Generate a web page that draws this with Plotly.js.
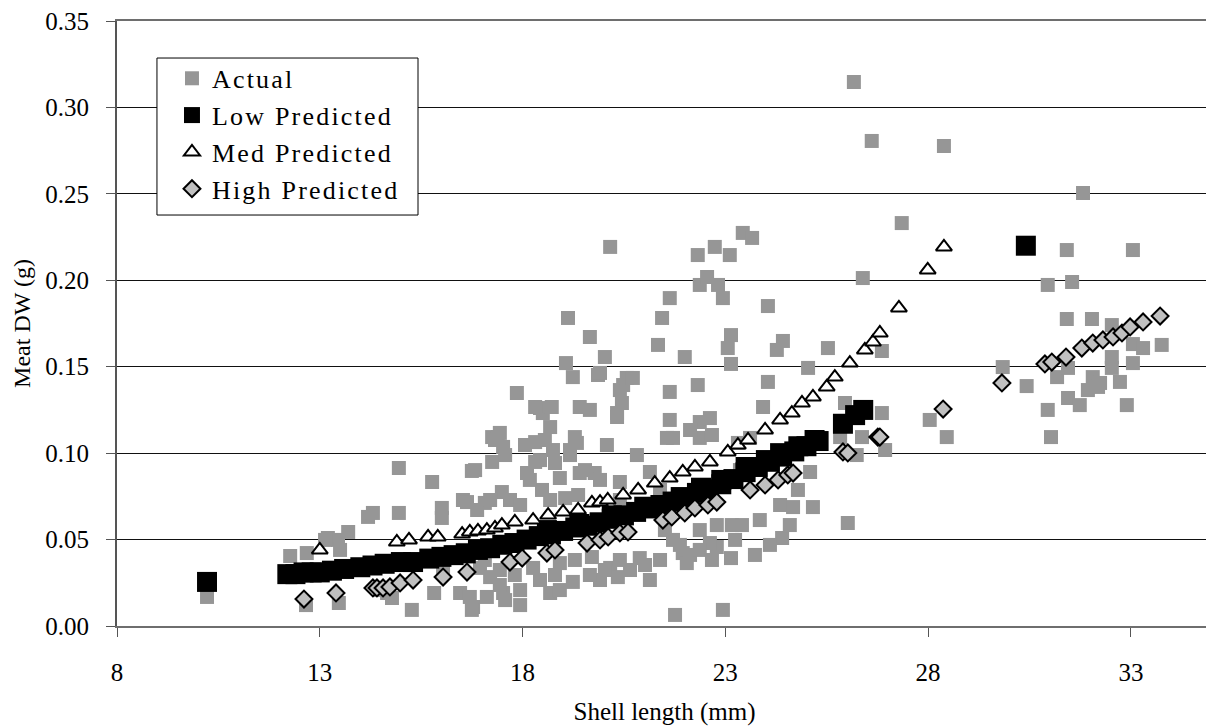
<!DOCTYPE html>
<html>
<head>
<meta charset="utf-8">
<script src="https://cdn.plot.ly/plotly-3.0.1.min.js"></script>
<style>
  html, body { margin: 0; padding: 0; overflow: hidden; background: #fff; }
  #chart { width: 1215px; height: 727px; }
  #chart .legendtext { letter-spacing: 2.2px; }
  #chart .legend .scrollbox { clip-path: none !important; }
</style>
</head>
<body>
<div id="chart"></div>
<script>
// Shell length (mm) and meat dry weight (g) of measured animals
const actualLength = [
  10.22, 12.27, 12.68, 12.66, 13.45, 13.20, 13.70, 13.47, 14.19, 14.31,
  14.66, 14.95, 14.95, 15.27, 15.77, 15.82, 16.01, 16.01, 16.04, 16.46,
  16.53, 16.63, 16.75, 16.78, 16.75, 16.88, 16.53, 17.25, 17.25, 16.83,
  17.39, 17.52, 17.44, 17.86, 17.07, 17.49, 17.69, 18.31, 18.31, 18.11,
  18.43, 18.50, 18.72, 18.68, 18.75, 18.80, 18.92, 18.48, 19.07, 19.12,
  19.24, 19.34, 19.29, 19.41, 19.41, 19.37, 19.66, 19.78, 19.86, 19.91,
  19.17, 20.03, 20.08, 20.16, 20.33, 20.33, 20.40, 20.45, 20.40, 20.48,
  20.57, 20.72, 20.82, 21.14, 21.34, 21.44, 21.56, 21.63, 21.63, 21.71,
  22.00, 22.32, 22.32, 22.37, 22.37, 22.37, 22.55, 22.67, 22.74, 22.82,
  22.94, 23.11, 23.14, 23.06, 23.14, 23.43, 23.66, 23.31, 23.61, 23.93,
  24.05, 24.05, 24.27, 24.42, 25.04, 25.53, 25.09, 24.79, 24.35, 24.67,
  25.16, 24.40, 23.41, 22.79, 23.16, 23.24, 22.79, 23.14, 22.94, 21.76,
  22.62, 21.71, 21.95, 22.05, 20.89, 20.16, 20.35, 19.71, 19.24, 18.68,
  18.92, 18.26, 17.52, 17.12, 16.70, 16.95, 17.20, 17.44, 17.81, 18.80,
  20.03, 20.40, 21.02, 19.91, 22.13, 22.37, 17.57, 21.39,
  18.31, 19.66, 17.32, 17.57, 18.06, 18.43, 19.17, 19.54, 19.91, 18.18,
  18.55, 17.20, 17.94, 18.68, 19.05, 21.63, 22.13, 22.62, 21.51, 21.88,
  22.37, 22.67, 19.66, 20.65, 21.14, 17.07, 17.44, 17.94, 18.43, 18.92,
  19.29, 17.94, 14.48, 14.78, 13.13, 13.50, 23.85, 24.10, 23.73, 24.59,
  23.36, 20.40, 21.02, 21.39,
  26.17, 26.61, 28.39, 27.35, 26.39, 26.86, 25.95, 26.86, 25.83, 26.37,
  26.94, 26.24, 26.02, 28.04, 28.46, 29.84, 30.43, 30.95, 31.55, 31.82,
  31.42, 33.05, 31.42, 32.04, 32.53, 33.05, 33.30, 33.76, 32.53, 32.53,
  33.05, 31.18, 31.45, 32.06, 32.24, 31.94, 32.73, 31.45, 31.74, 32.90,
  30.95, 31.03, 32.19
];
const actualWeight = [
  0.0168, 0.0405, 0.0422, 0.0121, 0.0498, 0.0509, 0.0544, 0.0133, 0.0631, 0.0654,
  0.0191, 0.0914, 0.0654, 0.0093, 0.0833, 0.0191, 0.0683, 0.0625, 0.0336, 0.0191,
  0.0729, 0.0717, 0.0897, 0.0110, 0.0093, 0.0671, 0.0440, 0.1093, 0.0949, 0.0902,
  0.1093, 0.1036, 0.1117, 0.1348, 0.0712, 0.0775, 0.0729, 0.1064, 0.0949, 0.0885,
  0.1261, 0.1232, 0.1267, 0.1151, 0.1018, 0.0943, 0.0856, 0.0787, 0.1521, 0.1782,
  0.1440, 0.1059, 0.1093, 0.1267, 0.0885, 0.0758, 0.1672, 0.0885, 0.1452, 0.1464,
  0.1018, 0.1556, 0.1047, 0.2193, 0.1232, 0.1209, 0.1365, 0.1290, 0.0833, 0.1394,
  0.1435, 0.1435, 0.0989, 0.0891, 0.1626, 0.1782, 0.1088, 0.1897, 0.1354, 0.1088,
  0.1556, 0.2146, 0.1394, 0.1973, 0.1180, 0.1088, 0.2019, 0.1105, 0.2193, 0.1973,
  0.1897, 0.2146, 0.1683, 0.1608, 0.1516, 0.2274, 0.2245, 0.1059, 0.1088, 0.1267,
  0.1412, 0.1851, 0.1597, 0.1649, 0.1493, 0.1608, 0.0891, 0.0787, 0.0700, 0.0688,
  0.0688, 0.0509, 0.0584, 0.0584, 0.0584, 0.0498, 0.0457, 0.0393, 0.0093, 0.0064,
  0.0480, 0.0498, 0.0422, 0.0364, 0.0393, 0.0336, 0.0283, 0.0399, 0.0255, 0.0191,
  0.0364, 0.0336, 0.0191, 0.0168, 0.0168, 0.0336, 0.0283, 0.0324, 0.0295, 0.0295,
  0.0324, 0.0382, 0.0353, 0.0266, 0.0411, 0.0555, 0.0150, 0.0382,
  0.1267, 0.1250, 0.1076, 0.0989, 0.1047, 0.0960, 0.0989, 0.0902, 0.0845, 0.0845,
  0.1076, 0.0729, 0.0700, 0.0729, 0.0740, 0.1192, 0.1134, 0.1203, 0.0555, 0.0469,
  0.0440, 0.0382, 0.0295, 0.0324, 0.0266, 0.0382, 0.0237, 0.0208, 0.0266, 0.0208,
  0.0382, 0.0121, 0.0208, 0.0162, 0.0498, 0.0440, 0.0613, 0.0469, 0.0411, 0.0584,
  0.0902, 0.0729, 0.0671, 0.0787,
  0.3147, 0.2806, 0.2777, 0.2331, 0.2013, 0.1591, 0.1290, 0.1232, 0.1093, 0.1093,
  0.1018, 0.0989, 0.0596, 0.1192, 0.1093, 0.1498, 0.1388, 0.1973, 0.1990, 0.2505,
  0.2175, 0.2175, 0.1776, 0.1776, 0.1741, 0.1631, 0.1608, 0.1626, 0.1556, 0.1493,
  0.1521, 0.1440, 0.1493, 0.1440, 0.1406, 0.1365, 0.1412, 0.1319, 0.1278, 0.1278,
  0.1250, 0.1093, 0.1383
];

// Low-condition model predictions
const lowLength = [
  10.22, 12.20, 12.40, 12.60, 12.80, 13.00, 13.30, 13.60, 14.00, 14.30, 14.60,
  15.00, 15.30, 15.70, 16.00, 16.30, 16.60, 16.90, 17.20, 17.50, 17.80,
  18.10, 18.40, 18.70, 19.00, 19.30, 19.60, 19.90, 20.20, 20.50, 20.80,
  21.10, 21.40, 21.70, 22.00, 22.30, 22.60, 22.90, 23.20, 23.50, 23.80,
  24.10, 24.40, 24.70, 25.00, 25.30, 25.90, 26.20, 26.40, 30.41,
  18.60, 19.40, 20.20, 21.00, 21.90, 22.40, 22.90, 23.50, 24.00, 24.35,
  24.80, 25.20
];
const lowWeight = [
  0.0255, 0.030, 0.030, 0.031, 0.031, 0.031, 0.032, 0.033, 0.034, 0.035, 0.036,
  0.037, 0.037, 0.039, 0.040, 0.041, 0.042, 0.044, 0.045, 0.047, 0.048,
  0.050, 0.052, 0.053, 0.055, 0.057, 0.058, 0.060, 0.062, 0.064, 0.066,
  0.068, 0.070, 0.072, 0.074, 0.077, 0.079, 0.082, 0.085, 0.089, 0.092,
  0.095, 0.098, 0.101, 0.104, 0.107, 0.117, 0.122, 0.125, 0.220,
  0.0555, 0.0590, 0.0640, 0.0690, 0.0746, 0.0800, 0.0845, 0.0920, 0.0960, 0.1000,
  0.1040, 0.1076
];

// Medium-condition model predictions
const medLength = [
  13.00, 14.90, 15.20, 15.67, 15.91, 16.51, 16.70, 16.90, 17.12, 17.32,
  17.49, 17.81, 18.26, 18.63, 19.00, 19.37, 19.71, 19.91, 20.10, 20.48,
  20.85, 21.26, 21.63, 21.95, 22.25, 22.62, 23.06, 23.31, 23.56, 23.98,
  24.35, 24.64, 24.89, 25.16, 25.50, 25.70, 26.07, 26.44, 26.64, 26.81,
  27.28, 27.99, 28.39
];
const medWeight = [
  0.0440, 0.0486, 0.0498, 0.0515, 0.0515, 0.0532, 0.0544, 0.0550, 0.0555, 0.0567,
  0.0584, 0.0602, 0.0613, 0.0642, 0.0660, 0.0671, 0.0712, 0.0717, 0.0729, 0.0758,
  0.0787, 0.0827, 0.0856, 0.0891, 0.0920, 0.0949, 0.1007, 0.1047, 0.1076, 0.1134,
  0.1192, 0.1232, 0.1290, 0.1325, 0.1383, 0.1440, 0.1521, 0.1597, 0.1643, 0.1695,
  0.1840, 0.2060, 0.2193
];

// High-condition model predictions
const highLength = [
  12.61, 13.40, 14.31, 14.41, 14.56, 14.73, 14.98, 15.30, 16.04, 16.63,
  17.69, 17.99, 18.60, 18.80, 19.59, 19.91, 20.11, 20.40, 20.60, 21.46,
  21.68, 22.00, 22.25, 22.57, 22.79, 23.61, 23.98, 24.30, 24.54, 24.67,
  25.90, 26.02, 26.76, 26.81, 28.37, 29.82, 30.88, 31.05, 31.40, 31.79,
  32.06, 32.31, 32.56, 32.78, 32.98, 33.30, 33.72
];
const highWeight = [
  0.0156, 0.0191, 0.0220, 0.0220, 0.0220, 0.0226, 0.0249, 0.0266, 0.0283, 0.0312,
  0.0370, 0.0393, 0.0422, 0.0440, 0.0480, 0.0498, 0.0515, 0.0538, 0.0544, 0.0613,
  0.0631, 0.0654, 0.0683, 0.0700, 0.0717, 0.0787, 0.0816, 0.0845, 0.0874, 0.0885,
  0.1007, 0.1001, 0.1093, 0.1093, 0.1255, 0.1406, 0.1516, 0.1527, 0.1556, 0.1608,
  0.1637, 0.1655, 0.1672, 0.1695, 0.1730, 0.1759, 0.1793
];

const seriesNames = ['Actual', 'Low Predicted', 'Med Predicted', 'High Predicted'];
const xTicks = [8, 13, 18, 23, 28, 33];

const serif = "'Liberation Serif', 'Times New Roman', 'DejaVu Serif', serif";

const traces = [
  {
    x: actualLength, y: actualWeight, name: seriesNames[0],
    type: 'scatter', mode: 'markers',
    marker: { symbol: 'square', size: 14, color: '#969696', line: { width: 0 } }
  },
  {
    x: lowLength, y: lowWeight, name: seriesNames[1],
    type: 'scatter', mode: 'markers',
    marker: { symbol: 'square', size: 20, color: '#000000', line: { width: 0 } }
  },
  {
    x: medLength, y: medWeight, name: seriesNames[2],
    type: 'scatter', mode: 'markers',
    marker: { symbol: 'triangle-up', size: 14, color: '#ffffff', line: { width: 2, color: '#000000' } }
  },
  {
    x: highLength, y: highWeight, name: seriesNames[3],
    type: 'scatter', mode: 'markers',
    marker: { symbol: 'diamond', size: 13, color: '#c0c0c0', line: { width: 2, color: '#000000' } }
  }
];

const layout = {
  width: 1215,
  height: 727,
  margin: { l: 117, r: 3, t: 21, b: 101 },
  paper_bgcolor: '#ffffff',
  plot_bgcolor: '#ffffff',
  font: { family: serif, size: 25, color: '#000000' },
  showlegend: true,
  legend: {
    x: 0.0502, y: 0.944, xanchor: 'left', yanchor: 'top',
    bgcolor: 'rgba(0,0,0,0)', borderwidth: 0,
    font: { family: serif, size: 26, color: '#000000' },
    itemwidth: 30
  },
  // white framed box behind the legend entries
  shapes: [{
    type: 'rect', xref: 'paper', yref: 'paper', layer: 'above',
    x0: 0.0365, x1: 0.2749, y0: 0.6793, y1: 0.9388,
    fillcolor: '#ffffff', line: { color: '#000000', width: 1 }
  }],
  xaxis: {
    range: [8, 35],
    tickmode: 'array', tickvals: xTicks, ticktext: xTicks.map(String),
    ticks: 'outside', ticklen: 9, tickcolor: '#555555', tickwidth: 1,
    ticklabelstandoff: 14,
    showgrid: false, zeroline: false,
    showline: true, linecolor: '#6e6e6e', linewidth: 2, mirror: true,
    tickfont: { family: serif, size: 25, color: '#000000' },
    title: { text: 'Shell length (mm)', font: { family: serif, size: 25, color: '#000000' }, standoff: 17 }
  },
  yaxis: {
    range: [0, 0.35], dtick: 0.05, tick0: 0, tickformat: '.2f',
    ticks: 'outside', ticklen: 9, tickcolor: '#555555', tickwidth: 1,
    ticklabelstandoff: 12,
    showgrid: true, gridcolor: '#111111', gridwidth: 1,
    zeroline: false,
    showline: true, linecolor: '#555555', linewidth: 2,
    tickfont: { family: serif, size: 25, color: '#000000' },
    title: { text: 'Meat DW (g)', font: { family: serif, size: 24, color: '#000000' }, standoff: 8 }
  }
};

Plotly.newPlot('chart', traces, layout, { displayModeBar: false, staticPlot: true });
</script>
</body>
</html>
